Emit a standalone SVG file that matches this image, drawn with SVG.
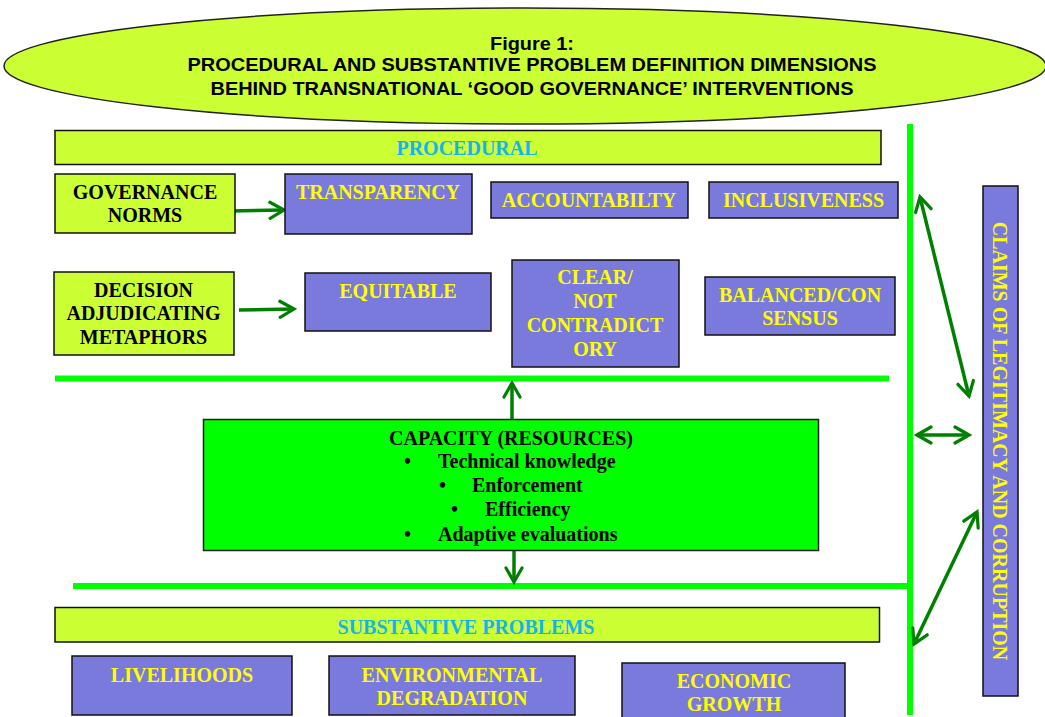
<svg xmlns="http://www.w3.org/2000/svg" width="1045" height="717" viewBox="0 0 1045 717">
<style>
.lime{fill:#ccff33;stroke:#111;stroke-width:1.5}
.pur{fill:#7a7add;stroke:#111;stroke-width:1.5}
.cap{fill:#00ff00;stroke:#222;stroke-width:1.5}
.t{font-family:"Liberation Serif","Times New Roman",serif;font-weight:bold;font-size:20px;text-anchor:middle}
.y{fill:#ffff00}
.k{fill:#000}
.b{fill:#14b4ea}
.title{font-family:"Liberation Sans",Arial,sans-serif;font-weight:bold;font-size:17.5px;text-anchor:middle;fill:#000}
.gl{stroke:#00ff00;stroke-width:6;fill:none}
.ar{stroke:#008000;stroke-width:3.5;fill:none}
</style>
<defs>
<marker id="ah" viewBox="0 0 20 20" refX="17" refY="10" markerWidth="20" markerHeight="20" markerUnits="userSpaceOnUse" orient="auto-start-reverse">
<path d="M3,2 L17,10 L3,18" fill="none" stroke="#008000" stroke-width="3.2" stroke-linecap="round" stroke-linejoin="miter"/>
</marker>
</defs>
<rect width="1045" height="717" fill="#fff"/>

<g id="title">
<ellipse cx="525" cy="66" rx="521" ry="58" fill="#ccff33" stroke="#222" stroke-width="1.5"/>
<text class="title" x="532" y="50" textLength="84" lengthAdjust="spacingAndGlyphs">Figure 1:</text>
<text class="title" x="532" y="71" textLength="689" lengthAdjust="spacingAndGlyphs">PROCEDURAL AND SUBSTANTIVE PROBLEM DEFINITION DIMENSIONS</text>
<text class="title" x="532" y="95" textLength="643" lengthAdjust="spacingAndGlyphs">BEHIND TRANSNATIONAL ‘GOOD GOVERNANCE’ INTERVENTIONS</text>
</g>

<g id="connectors">
<line class="gl" x1="55" y1="378.5" x2="889" y2="378.5"/>
<line class="gl" x1="73" y1="586" x2="910" y2="586"/>
<line class="gl" x1="910" y1="124" x2="910" y2="715"/>
<line class="ar" x1="229" y1="211" x2="284" y2="210" marker-end="url(#ah)"/>
<line class="ar" x1="239" y1="310" x2="294" y2="309" marker-end="url(#ah)"/>
<line class="ar" x1="512" y1="419" x2="512" y2="383" marker-end="url(#ah)"/>
<line class="ar" x1="514" y1="551" x2="514" y2="582" marker-end="url(#ah)"/>
<line class="ar" x1="920" y1="197" x2="969" y2="396" marker-start="url(#ah)" marker-end="url(#ah)"/>
<line class="ar" x1="917" y1="435" x2="969" y2="435" marker-start="url(#ah)" marker-end="url(#ah)"/>
<line class="ar" x1="977" y1="512" x2="914" y2="644" marker-start="url(#ah)" marker-end="url(#ah)"/>
</g>

<g id="procedural">
<rect class="lime" x="55" y="130.5" width="826" height="34"/>
<text class="t b" x="467" y="155">PROCEDURAL</text>
</g>
<g id="governance-norms">
<rect class="lime" x="55" y="174" width="180" height="59"/>
<text class="t k" x="145" y="199">GOVERNANCE</text>
<text class="t k" x="145" y="222">NORMS</text>
</g>
<g id="transparency">
<rect class="pur" x="285" y="174" width="187" height="60"/>
<text class="t y" x="378" y="199">TRANSPARENCY</text>
</g>
<g id="accountability">
<rect class="pur" x="491" y="182" width="197" height="36"/>
<text class="t y" x="589" y="206.5">ACCOUNTABILTY</text>
</g>
<g id="inclusiveness">
<rect class="pur" x="709" y="182" width="189" height="36"/>
<text class="t y" x="803.5" y="206.5">INCLUSIVENESS</text>
</g>
<g id="decision">
<rect class="lime" x="54" y="272" width="180" height="83"/>
<text class="t k" x="143.5" y="297">DECISION</text>
<text class="t k" x="143.5" y="320">ADJUDICATING</text>
<text class="t k" x="143.5" y="344">METAPHORS</text>
</g>
<g id="equitable">
<rect class="pur" x="305" y="273" width="186" height="58"/>
<text class="t y" x="398" y="297.5">EQUITABLE</text>
</g>
<g id="clear">
<rect class="pur" x="512" y="260" width="167" height="107"/>
<text class="t y" x="595" y="284">CLEAR/</text>
<text class="t y" x="595" y="307.5">NOT</text>
<text class="t y" x="595" y="331.5">CONTRADICT</text>
<text class="t y" x="595" y="355.5">ORY</text>
</g>
<g id="balanced">
<rect class="pur" x="705" y="277" width="190" height="58"/>
<text class="t y" x="800" y="301.5">BALANCED/CON</text>
<text class="t y" x="800" y="324.5">SENSUS</text>
</g>
<g id="capacity">
<rect class="cap" x="203.5" y="419.5" width="615" height="131"/>
<text class="t k" x="511" y="444.5">CAPACITY (RESOURCES)</text>
<g class="t k" style="text-anchor:start">
<text x="404" y="467.5">•</text><text x="438" y="467.5">Technical knowledge</text>
<text x="439" y="491.5">•</text><text x="472" y="491.5">Enforcement</text>
<text x="451" y="515.5">•</text><text x="485" y="515.5">Efficiency</text>
<text x="404" y="540.5">•</text><text x="438" y="540.5">Adaptive evaluations</text>
</g>
</g>
<g id="substantive">
<rect class="lime" x="55" y="607.5" width="824.5" height="34.5"/>
<text class="t b" x="466" y="633.5">SUBSTANTIVE PROBLEMS</text>
</g>
<g id="livelihoods">
<rect class="pur" x="72" y="656" width="220" height="59"/>
<text class="t y" x="182" y="681.5">LIVELIHOODS</text>
</g>
<g id="environmental">
<rect class="pur" x="329" y="656" width="246" height="59"/>
<text class="t y" x="452" y="682">ENVIRONMENTAL</text>
<text class="t y" x="452" y="704.5">DEGRADATION</text>
</g>
<g id="economic">
<rect class="pur" x="622" y="663" width="223" height="60"/>
<text class="t y" x="734" y="688">ECONOMIC</text>
<text class="t y" x="734" y="710.5">GROWTH</text>
</g>
<g id="claims">
<rect class="pur" x="983" y="186" width="35" height="510"/>
<text class="t y" transform="translate(1000,441) rotate(90)" x="0" y="7">CLAIMS OF LEGITIMACY AND CORRUPTION</text>
</g>
</svg>
